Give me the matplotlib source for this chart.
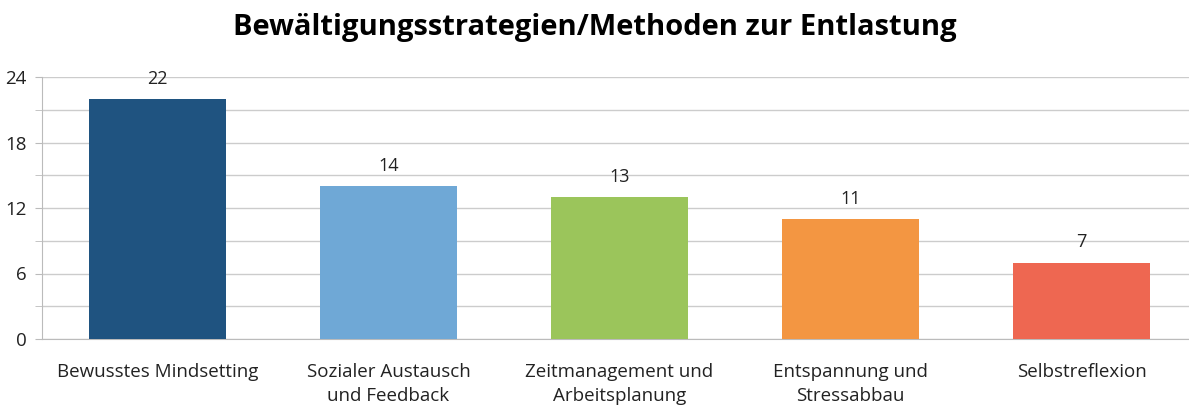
import numpy as np
import matplotlib.pyplot as plt
from matplotlib.ticker import MultipleLocator

categories = ["Bewusstes Mindsetting", "Sozialer Austausch\nund Feedback",
              "Zeitmanagement und\nArbeitsplanung", "Entspannung und\nStressabbau",
              "Selbstreflexion"]
values = [22, 14, 13, 11, 7]
colors = ["#1F5380", "#6FA8D6", "#9BC55B", "#F39642", "#EE6751"]

plt.rcParams['font.family'] = ['Open Sans', 'DejaVu Sans']

fig = plt.figure(figsize=(11.89, 4.05), dpi=100)
ax = fig.add_axes([42 / 1189, 1 - 339 / 405, 1 - 42 / 1189, 262 / 405])

x = np.arange(len(categories))
ax.bar(x, values, width=0.59, color=colors, zorder=3)
for xi, v in zip(x, values):
    ax.annotate(str(v), (xi, v), xytext=(0, 8), textcoords="offset points",
                ha="center", va="bottom", fontsize=13, color="#222222")

ax.set_xlim(-0.5, -0.5 + 1147 / 231)
ax.set_ylim(0, 24)
ax.yaxis.set_major_locator(MultipleLocator(6))
ax.yaxis.set_minor_locator(MultipleLocator(3))
ax.grid(axis="y", which="both", color="#CCCCCC", linewidth=1, zorder=0)
ax.set_xticks(x)
ax.set_xticklabels(categories, fontsize=13.5, linespacing=1.45, color="#222222")
ax.tick_params(axis="x", length=0, pad=17)
ax.tick_params(axis="y", which="both", length=5, color="#BBBBBB", labelsize=13.5,
               labelcolor="#222222", pad=6)
for s in ["top", "right"]:
    ax.spines[s].set_visible(False)
for s in ["left", "bottom"]:
    ax.spines[s].set_color("#BBBBBB")

fig.text(0.5, 1 - 28 / 405, "Bewältigungsstrategien/Methoden zur Entlastung",
         fontsize=21, fontweight="bold", ha="center", va="center")

fig.savefig("out.png", dpi=100)
